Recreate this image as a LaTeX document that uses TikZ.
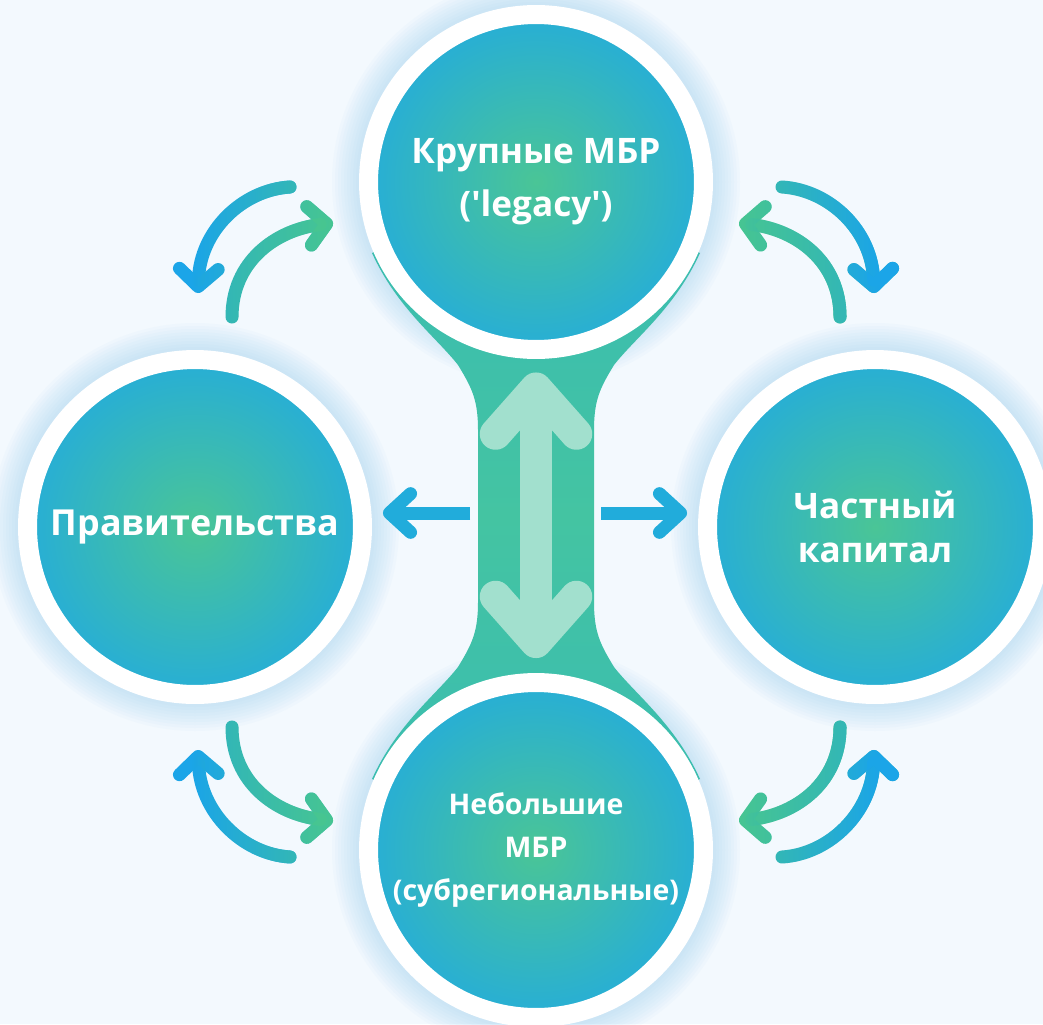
\documentclass[tikz,border=0pt]{standalone}
\usepackage{fontspec}
\setmainfont{Open Sans}
\usetikzlibrary{arrows.meta}
\usetikzlibrary{fadings}

\definecolor{bgc}{HTML}{F3F9FE}
\definecolor{glowc}{HTML}{9ACFF0}
\definecolor{ringgreen}{HTML}{4AC596}
\definecolor{ringblue}{HTML}{27AED6}
\definecolor{neckc}{HTML}{44C4A2}
\definecolor{neckedge}{HTML}{38BBB3}
\definecolor{mint}{HTML}{A2E0CE}
\definecolor{sideblue}{HTML}{21ACDB}
\definecolor{arrowblue}{HTML}{1BA5E8}
\definecolor{arrowteal}{HTML}{33B7B6}
\definecolor{arrowgreen}{HTML}{48C690}

\tikzfading[name=fadeR, left color=transparent!100, right color=transparent!0]

\pgfdeclarelayer{bg}
\pgfsetlayers{bg,main}

\tikzset{
  actor/.style={circle, minimum size=6.7cm, inner sep=0pt, draw=white, line width=0.38cm,
    inner color=ringgreen, outer color=ringblue, text=white, align=center},
  swaparc/.style={line width=7.4pt, line cap=round, line join=round,
    -{Straight Barb[length=10pt, width=22pt, round]}},
  sidearrow/.style={sideblue, line width=7.4pt,
    -{Straight Barb[length=12pt, width=22pt, round]}},
  bigarrow/.style={mint, line width=18pt,
    {Straight Barb[length=26pt, width=46pt, round]}-{Straight Barb[length=26pt, width=46pt, round]}}
}

\begin{document}
\begin{tikzpicture}[x=0.02cm, y=-0.02cm]
  \useasboundingbox (0,0) rectangle (1043,1024);

  % the four partners
  \node[actor, font=\bfseries\fontsize{20}{30}\selectfont] (big) at (536,182)
    {Крупные МБР\\(\textquotesingle legacy\textquotesingle)};
  \node[actor, font=\bfseries\fontsize{20.4}{26}\selectfont] (gov) at (195,527) {Правительства};
  \node[actor, font=\bfseries\fontsize{20}{25.5}\selectfont] (priv) at (875,527) {Частный\\капитал};
  \node[actor, font=\bfseries\fontsize{16.2}{24.4}\selectfont] (small) at (536,850)
    {Небольшие\\МБР\\(субрегиональные)};

  \begin{pgfonlayer}{bg}
    \fill[bgc] (0,0) rectangle (1043,1024);
    \foreach \n in {big,gov,priv,small} {
      \foreach \r in {180,183,...,204}
        \fill[glowc, opacity=0.055] (\n.center) circle (\r);
    }
    % neck between the two bank circles
    \shade[top color=neckedge, bottom color=neckedge, middle color=neckc]
      (big.center) -- (372,253) .. controls (397,308) and (437,338) .. (458,365)
      .. controls (472,388) and (478,400) .. (478,430) -- (478,602)
      .. controls (478,632) and (472,644) .. (458,667)
      .. controls (437,694) and (397,724) .. (372,779) -- (small.center)
      -- (700,779) .. controls (675,724) and (635,694) .. (614,667)
      .. controls (600,644) and (594,632) .. (594,602) -- (594,430)
      .. controls (594,400) and (600,388) .. (614,365)
      .. controls (635,338) and (675,308) .. (700,253) -- cycle;
  \end{pgfonlayer}

  \draw[bigarrow, shorten <=0.27cm, shorten >=0.3cm] (big.south) -- (small.north);

  \coordinate (neckL) at (470,513);
  \coordinate (neckR) at (601,513);
  \draw[sidearrow, shorten >=0.22cm] (neckL) -- (neckL -| gov.east);
  \draw[sidearrow, shorten >=0.22cm] (neckR) -- (neckR -| priv.west);

  % curved exchange arrows
  \coordinate (tlo1) at (290,187); \coordinate (tlo2) at (198,293);
  \coordinate (tli1) at (232,317); \coordinate (tli2) at (333,223);
  \coordinate (tro1) at (782,187); \coordinate (tro2) at (874,293);
  \coordinate (tri1) at (840,317); \coordinate (tri2) at (739,223);
  \coordinate (blo1) at (290,857); \coordinate (blo2) at (198,750);
  \coordinate (bli1) at (232,727); \coordinate (bli2) at (333,821);
  \coordinate (bro1) at (782,857); \coordinate (bro2) at (874,750);
  \coordinate (bri1) at (840,727); \coordinate (bri2) at (739,821);

  \foreach \s/\e/\ax/\ay/\bx/\by/\lc/\rc in {
      tlo1/tlo2/-48/3/2/-62/arrowblue/arrowteal,
      tli1/tli2/0/-55/-58/7/arrowteal/arrowgreen,
      tro1/tro2/48/3/-2/-62/arrowteal/arrowblue,
      tri1/tri2/0/-55/58/7/arrowgreen/arrowteal,
      blo1/blo2/-48/-3/2/62/arrowblue/arrowteal,
      bli1/bli2/0/55/-58/-7/arrowteal/arrowgreen,
      bro1/bro2/48/-3/-2/62/arrowteal/arrowblue,
      bri1/bri2/0/55/58/-7/arrowgreen/arrowteal} {
    \draw[swaparc, color=\lc] (\s) .. controls +(\ax,\ay) and +(\bx,\by) .. (\e);
    \draw[swaparc, color=\rc, path fading=fadeR] (\s) .. controls +(\ax,\ay) and +(\bx,\by) .. (\e);
  }
\end{tikzpicture}
\end{document}
